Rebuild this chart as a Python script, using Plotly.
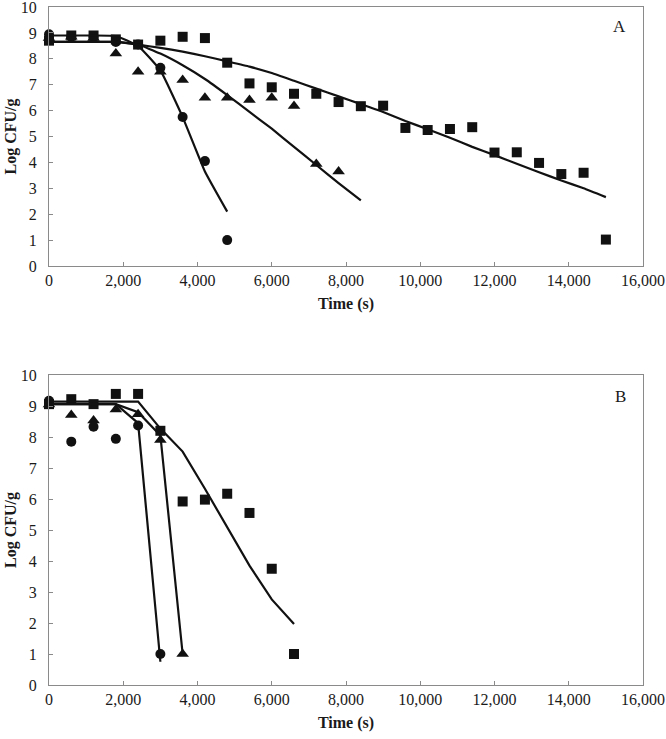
import plotly.graph_objects as go

# ---------------- Panel A data ----------------
time_A_sq = [0, 600, 1200, 1800, 2400, 3000, 3600, 4200, 4800, 5400, 6000, 6600, 7200,
             7800, 8400, 9000, 9600, 10200, 10800, 11400, 12000, 12600, 13200, 13800, 14400, 15000]
A_square = [8.7, 8.9, 8.9, 8.75, 8.55, 8.7, 8.85, 8.8, 7.85, 7.05, 6.9, 6.65, 6.65,
            6.33, 6.17, 6.19, 5.33, 5.25, 5.29, 5.36, 4.38, 4.39, 3.98, 3.55, 3.6, 1.02]
A_square_fit = [8.65, 8.65, 8.65, 8.65, 8.55, 8.42, 8.28, 8.1, 7.9, 7.7, 7.45, 7.15, 6.85,
                6.55, 6.25, 5.95, 5.6, 5.28, 4.95, 4.6, 4.28, 3.95, 3.62, 3.3, 3.0, 2.66]

time_A_ci = [0, 600, 1200, 1800, 2400, 3000, 3600, 4200, 4800]
A_circle = [8.95, 8.85, 8.85, 8.65, 8.55, 7.65, 5.75, 4.05, 1.0]
A_circle_fit = [8.9, 8.9, 8.9, 8.88, 8.5, 7.55, 5.75, 3.65, 2.1]

time_A_tr = [0, 600, 1200, 1800, 2400, 3000, 3600, 4200, 4800, 5400, 6000, 6600, 7200, 7800]
A_triangle = [8.8, 8.85, 8.8, 8.2, 7.5, 7.5, 7.18, 6.5, 6.5, 6.41, 6.5, 6.18, 3.94, 3.65]
time_A_trfit = [0, 600, 1200, 1800, 2400, 3000, 3600, 4200, 4800, 5400, 6000, 6600, 7200, 7800, 8400]
A_triangle_fit = [8.65, 8.65, 8.65, 8.65, 8.55, 8.2, 7.75, 7.22, 6.6, 5.95, 5.3, 4.6, 3.9, 3.2, 2.53]

# ---------------- Panel B data ----------------
time_B_sq = [0, 600, 1200, 1800, 2400, 3000, 3600, 4200, 4800, 5400, 6000, 6600]
B_square = [9.06, 9.22, 9.06, 9.39, 9.39, 8.2, 5.92, 5.98, 6.17, 5.55, 3.75, 1.0]
B_square_fit = [9.14, 9.14, 9.14, 9.14, 9.14, 8.27, 7.53, 6.33, 5.07, 3.85, 2.76, 1.97]

time_B_ci = [0, 600, 1200, 1800, 2400, 3000]
B_circle = [9.17, 7.85, 8.33, 7.94, 8.37, 1.0]
B_circle_fit = [9.06, 9.06, 9.06, 9.06, 8.45, 0.75]

time_B_tr = [0, 600, 1200, 1800, 2400, 3000, 3600]
B_triangle = [9.05, 8.71, 8.53, 8.89, 8.73, 7.9, 1.0]
B_triangle_fit = [9.06, 9.06, 9.06, 9.06, 8.8, 8.05, 1.0]

x_ticks = [0, 2000, 4000, 6000, 8000, 10000, 12000, 14000, 16000]
y_ticks = list(range(0, 11))
panel_labels = ["A", "B"]

FONT = "Liberation Serif"
MK = "#111111"
LN = "#111111"

fig = go.Figure()


def add_panel(xa, ya, sets, line_shape):
    for (tx, ty, sym, size) in sets["markers"]:
        fig.add_trace(go.Scatter(x=tx, y=ty, mode="markers", xaxis=xa, yaxis=ya,
                                 marker=dict(symbol=sym, size=size, color=MK, line=dict(width=0)),
                                 showlegend=False, hoverinfo="skip", cliponaxis=False))
    for (tx, ty) in sets["lines"]:
        ln = dict(color=LN, width=2.2, shape=line_shape)
        if line_shape == "spline":
            ln["smoothing"] = 0.35
        fig.add_trace(go.Scatter(x=tx, y=ty, mode="lines", xaxis=xa, yaxis=ya,
                                 line=ln, showlegend=False, hoverinfo="skip"))


add_panel("x", "y", {
    "lines": [(time_A_sq, A_square_fit), (time_A_ci, A_circle_fit), (time_A_trfit, A_triangle_fit)],
    "markers": [(time_A_tr, A_triangle, "triangle-up", 11), (time_A_ci, A_circle, "circle", 10),
                (time_A_sq, A_square, "square", 10)],
}, "spline")
add_panel("x2", "y2", {
    "lines": [(time_B_sq, B_square_fit), (time_B_ci, B_circle_fit), (time_B_tr, B_triangle_fit)],
    "markers": [(time_B_tr, B_triangle, "triangle-up", 11), (time_B_ci, B_circle, "circle", 10),
                (time_B_sq, B_square, "square", 10)],
}, "linear")

W, H = 666, 739
ml, mr, mt, mb = 49, 23, 7, 54
ph = H - mt - mb
domA = [(685 - 266) / ph, 1.0]
domB = [0.0, (685 - 375) / ph]

xcommon = dict(range=[0, 16000], tickvals=x_ticks, tickformat=",", showgrid=False, zeroline=False,
               showline=True, linecolor="#8a8a8a", linewidth=1.2, mirror=True,
               ticks="inside", ticklen=4, tickcolor="#8a8a8a", ticklabeloverflow="allow",
               tickfont=dict(family=FONT, size=16, color="#1a1a1a"),
               title=dict(text="<b>Time (s)</b>", font=dict(family=FONT, size=16, color="#1a1a1a"), standoff=9))
ycommon = dict(range=[0, 10], tickvals=y_ticks, showgrid=False, zeroline=False,
               showline=True, linecolor="#8a8a8a", linewidth=1.2, mirror=True,
               ticks="inside", ticklen=4, tickcolor="#8a8a8a", ticklabelstandoff=8,
               ticklabeloverflow="allow",
               tickfont=dict(family=FONT, size=16, color="#1a1a1a"),
               title=dict(text="<b>Log CFU/g</b>", font=dict(family=FONT, size=16, color="#1a1a1a"), standoff=0))

fig.update_layout(
    width=W, height=H, margin=dict(l=ml, r=mr, t=mt, b=mb, autoexpand=False),
    paper_bgcolor="white", plot_bgcolor="white", showlegend=False,
    xaxis=dict(domain=[0, 1], anchor="y", **xcommon),
    yaxis=dict(domain=domA, anchor="x", **ycommon),
    xaxis2=dict(domain=[0, 1], anchor="y2", **xcommon),
    yaxis2=dict(domain=domB, anchor="x2", **ycommon),
)

for lab, xr, yr, yy in [(panel_labels[0], "x domain", "y domain", 0.97),
                        (panel_labels[1], "x2 domain", "y2 domain", 0.968)]:
    fig.add_annotation(text=lab, xref=xr, yref=yr, x=0.975, y=yy, showarrow=False,
                       font=dict(family=FONT, size=17, color="#1a1a1a"))

fig.write_html("out.html", config={"displayModeBar": False},
               post_script="document.body.style.margin='0px';document.body.style.overflow='hidden';")
